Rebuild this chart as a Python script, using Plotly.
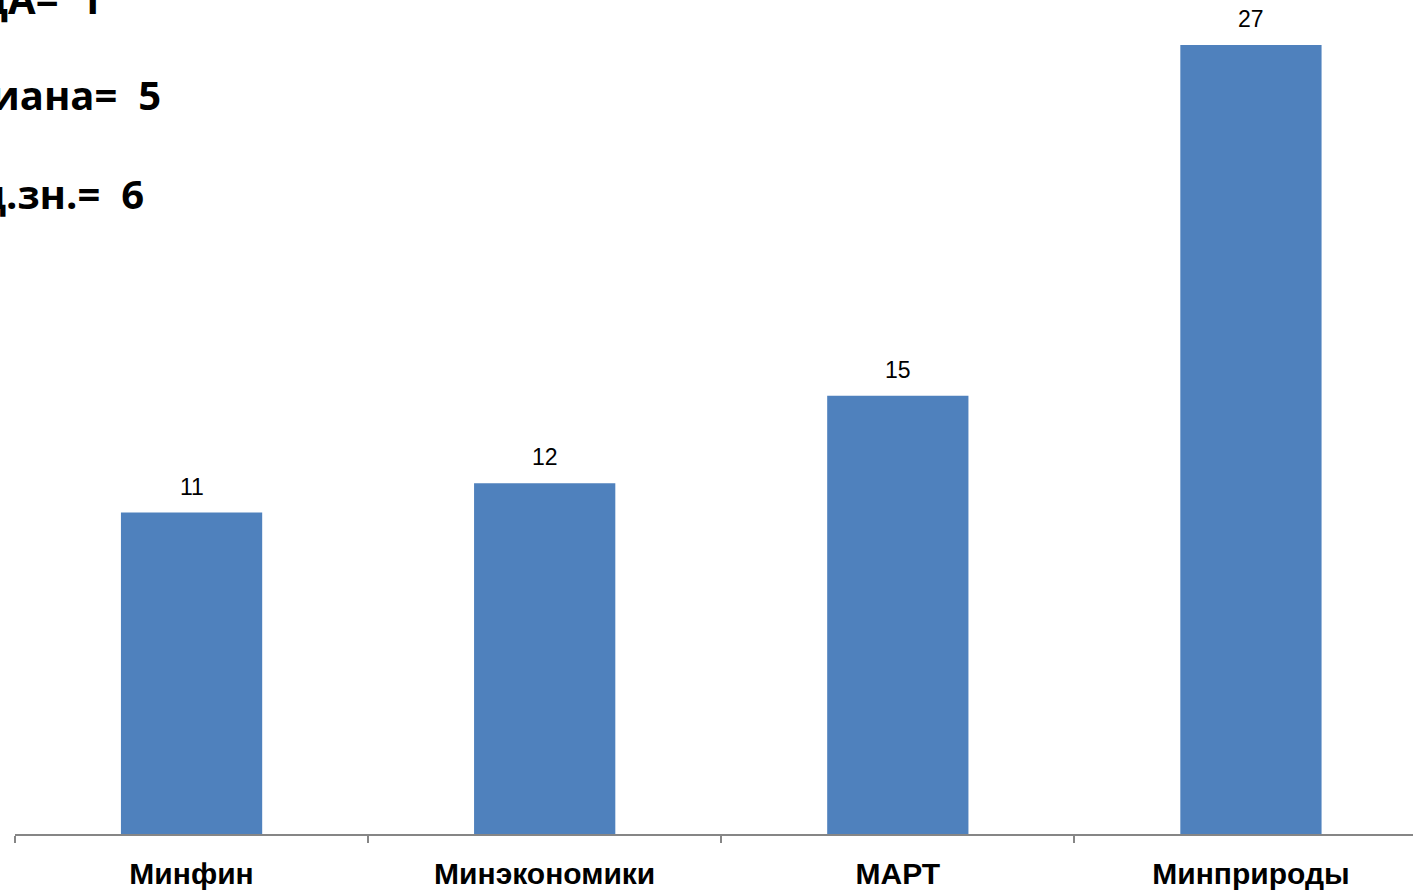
import plotly.graph_objects as go

categories = ["Минфин", "Минэкономики", "МАРТ", "Минприроды"]
values = [11, 12, 15, 27]
stats_lines = ["МОДА= 1", "Медиана= 5", "Сред.зн.= 6"]

W, H = 1413, 893
ml, mr, mt, mb = 15, 0, 0, 59
plot_h = H - mt - mb
px_per_unit = 789 / 27.0

fig = go.Figure(go.Bar(
    x=categories, y=values, width=0.4,
    marker=dict(color="#4F81BD", line=dict(width=0)),
    hoverinfo="skip",
))

for c, v in zip(categories, values):
    fig.add_annotation(
        x=c, y=v, xref="x", yref="y", text=str(v), showarrow=False,
        yanchor="middle", yshift=26,
        font=dict(family="Liberation Sans, Arial", size=23, color="#000000"),
    )

ann_right = [104, 163, 146]
ann_base = [13, 110, 208]
for txt, xr, yb in zip(stats_lines, ann_right, ann_base):
    fig.add_annotation(
        text="<b>" + txt.replace("= ", "=&nbsp; ") + "</b>",
        xref="paper", yref="paper",
        x=(xr - ml) / (W - ml - mr), y=1 - (yb - 15) / plot_h,
        xanchor="right", yanchor="middle", showarrow=False,
        font=dict(family="Open Sans", size=40, color="#000000"),
    )

fig.update_layout(
    width=W, height=H,
    margin=dict(l=ml, r=mr, t=mt, b=mb, pad=0),
    paper_bgcolor="white", plot_bgcolor="white",
    showlegend=False,
    xaxis=dict(
        range=[-0.5, 3.5 - 14.5 / 353], showline=True, linecolor="#868686", linewidth=1.5,
        ticks="outside", tickson="boundaries", ticklen=7, tickcolor="#868686", tickwidth=1.5,
        tickfont=dict(family="Liberation Sans, Arial", size=30, color="#000000"),
        ticklabelstandoff=12,
        showgrid=False, zeroline=False,
        tickprefix="<b>", ticksuffix="</b>",
    ),
    yaxis=dict(
        range=[0, plot_h / px_per_unit], visible=False, showgrid=False, zeroline=False,
    ),
)

fig.write_html(
    "out.html",
    config={"displayModeBar": False},
    post_script="document.body.style.margin='0px';document.body.style.overflow='hidden';",
)
